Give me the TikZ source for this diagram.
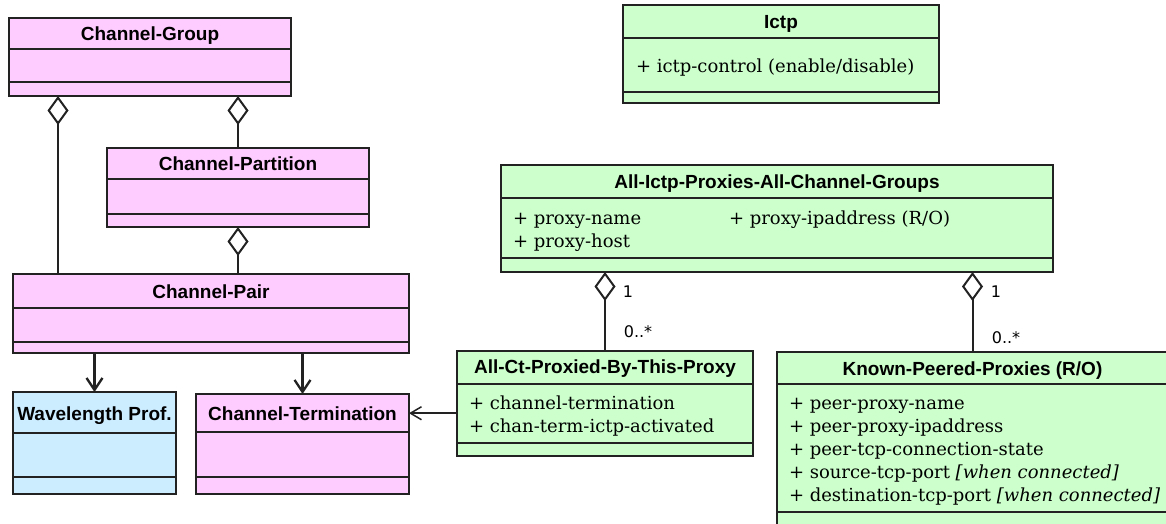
\documentclass[tikz,border=0pt]{standalone}
\usepackage{fontspec}
\setmainfont{DejaVu Serif}
\newfontfamily\hdfont{Liberation Sans}
\newfontfamily\mulfont{DejaVu Sans}
\usetikzlibrary{arrows.meta}
\definecolor{clspink}{HTML}{FFCCFF}
\definecolor{clsgreen}{HTML}{CCFFCC}
\definecolor{clsblue}{HTML}{CCECFF}
\definecolor{clsline}{HTML}{222222}

\begin{document}
\begin{tikzpicture}[x=1pt,y=-1pt,line width=2pt,draw=clsline,
    cls/.style={draw=clsline, rectangle, anchor=north west, inner sep=0pt, outer sep=0pt},
    ttl/.style={anchor=base, inner sep=0pt, font=\hdfont\bfseries\fontsize{19}{22}\selectfont},
    attr/.style={anchor=base west, align=left, inner sep=0pt, font=\fontsize{18}{23}\selectfont},
    mult/.style={inner sep=0pt, font=\mulfont\fontsize{16}{18}\selectfont},
    aggr/.style={{Diamond[open, fill=white, length=29pt, width=21pt]}-},
    nav/.style={line width=2.3pt, -{Straight Barb[length=12pt, width=16pt]}},
    assoc/.style={line width=1.5pt, -{Straight Barb[length=11pt, width=13pt]}}]

  \useasboundingbox (0,0) rectangle (1166,524);
  \clip (0,0) rectangle (1166,524);

  \begin{scope}[every node/.append style={cls}]
    \node[fill=clspink, minimum width=282, minimum height=78]  (cg)    at (9,18)    {};
    \node[fill=clspink, minimum width=262, minimum height=79]  (cpart) at (107,148) {};
    \node[fill=clspink, minimum width=396, minimum height=79]  (cp)    at (13,274)  {};
    \node[fill=clsblue, minimum width=163, minimum height=102] (wl)    at (13,392)  {};
    \node[fill=clspink, minimum width=213, minimum height=100] (ct)    at (196,394) {};
    \node[fill=clsgreen, minimum width=316, minimum height=98] (ictp)  at (623,5)   {};
    \node[fill=clsgreen, minimum width=552, minimum height=107] (aip)  at (501,165) {};
    \node[fill=clsgreen, minimum width=296, minimum height=105] (act)  at (457,351) {};
    \node[fill=clsgreen, minimum width=391, minimum height=178] (kpp)  at (777,352) {};
  \end{scope}

  \draw (cg.west |- 0,49) -- (cg.east |- 0,49);
  \draw (cg.west |- 0,82) -- (cg.east |- 0,82);
  \draw (cpart.west |- 0,179) -- (cpart.east |- 0,179);
  \draw (cpart.west |- 0,214) -- (cpart.east |- 0,214);
  \draw (cp.west |- 0,308) -- (cp.east |- 0,308);
  \draw (cp.west |- 0,342) -- (cp.east |- 0,342);
  \draw (wl.west |- 0,433) -- (wl.east |- 0,433);
  \draw (wl.west |- 0,477) -- (wl.east |- 0,477);
  \draw (ct.west |- 0,432) -- (ct.east |- 0,432);
  \draw (ct.west |- 0,477) -- (ct.east |- 0,477);
  \draw (ictp.west |- 0,38) -- (ictp.east |- 0,38);
  \draw (ictp.west |- 0,92) -- (ictp.east |- 0,92);
  \draw (aip.west |- 0,198) -- (aip.east |- 0,198);
  \draw (aip.west |- 0,258) -- (aip.east |- 0,258);
  \draw (act.west |- 0,384) -- (act.east |- 0,384);
  \draw (act.west |- 0,443) -- (act.east |- 0,443);
  \draw (kpp.west |- 0,384) -- (kpp.east |- 0,384);
  \draw (kpp.west |- 0,512) -- (kpp.east |- 0,512);

  \node[ttl] (cg-t)    at (cg.north |- 0,40.5)    {Channel-Group};
  \node[ttl] (cpart-t) at (cpart.north |- 0,170.5) {Channel-Partition};
  \node[ttl] (cp-t)    at (cp.north |- 0,298)      {Channel-Pair};
  \node[ttl] (wl-t)    at (wl.north |- 0,420)      {Wavelength Prof.};
  \node[ttl] (ct-t)    at (ct.north |- 0,420)      {Channel-Termination};
  \node[ttl] (ictp-t)  at (ictp.north |- 0,29)     {Ictp};
  \node[ttl] (aip-t)   at (aip.north |- 0,188.5)   {All-Ictp-Proxies-All-Channel-Groups};
  \node[ttl] (act-t)   at (act.north |- 0,373.5)   {All-Ct-Proxied-By-This-Proxy};
  \node[ttl] (kpp-t)   at (kpp.north |- 0,375)     {Known-Peered-Proxies (R/O)};

  \node[attr] (ictp-a) at (635,73)  {+ ictp-control (enable/disable)};
  \node[attr] (aip-a)  at (512,247) {+ proxy-name\\+ proxy-host};
  \node[attr] (aip-b)  at (728,224) {+ proxy-ipaddress (R/O)};
  \node[attr] (act-a)  at (468,432) {+ channel-termination\\+ chan-term-ictp-activated};
  \node[attr] (kpp-a)  at (788,501) {+ peer-proxy-name\\+ peer-proxy-ipaddress\\+ peer-tcp-connection-state\\+ source-tcp-port \textit{[when connected]}\\+ destination-tcp-port \textit{[when connected]}};

  \node[mult] (m1) at (628,292)  {1};
  \node[mult] (m2) at (638,332)  {0..*};
  \node[mult] (m3) at (996,292)  {1};
  \node[mult] (m4) at (1006,338) {0..*};

  \draw[aggr] (cg.south -| 58,0) -- (cp.north -| 58,0);
  \draw[aggr] (cg.south -| cpart.north) -- (cpart.north);
  \draw[aggr] (cpart.south) -- (cp.north -| cpart.south);
  \draw[nav] (cp.south -| wl.north) -- (wl.north);
  \draw[nav] (cp.south -| ct.north) -- (ct.north);
  \draw[assoc] (act.west |- ct-t) -- (ct.east |- ct-t);
  \draw[aggr] (aip.south -| act.north) -- (act.north);
  \draw[aggr] (aip.south -| kpp.north) -- (kpp.north);

\end{tikzpicture}
\end{document}
